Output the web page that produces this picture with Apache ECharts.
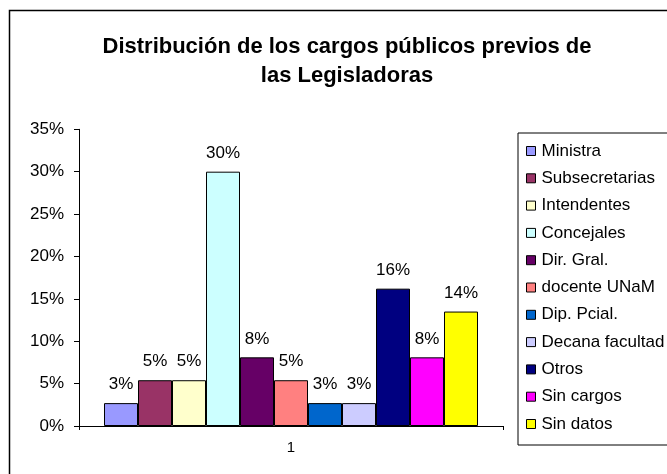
<!DOCTYPE html>
<html>
<head>
<meta charset="utf-8">
<script src="https://cdn.jsdelivr.net/npm/echarts@6/dist/echarts.min.js"></script>
<style>
  html, body { margin: 0; padding: 0; background: #ffffff; }
  #chart { width: 667px; height: 474px; }
</style>
</head>
<body>
<div id="chart"></div>
<script>
// Share of previous public posts held by the legislators (percent)
const categories = ['1'];
const seriesNames = [
  'Ministra', 'Subsecretarias', 'Intendentes', 'Concejales', 'Dir. Gral.',
  'docente UNaM', 'Dip. Pcial.', 'Decana facultad', 'Otros', 'Sin cargos', 'Sin datos'
];
const seriesValues = [2.7, 5.4, 5.4, 30, 8.1, 5.4, 2.7, 2.7, 16.2, 8.1, 13.5];
const seriesColors = [
  '#9999FF', '#993366', '#FFFFCC', '#CCFFFF', '#660066',
  '#FF8080', '#0066CC', '#CCCCFF', '#000080', '#FF00FF', '#FFFF00'
];
const yTicks = [0, 5, 10, 15, 20, 25, 30, 35];

const FONT = 'Liberation Sans, Arial, sans-serif';

const chart = echarts.init(document.getElementById('chart'), null, { renderer: 'canvas' });

const series = seriesNames.map((name, i) => ({
  name: name,
  type: 'bar',
  data: [seriesValues[i]],
  barWidth: 34,
  barGap: '0%',
  itemStyle: { color: seriesColors[i], borderColor: '#000000', borderWidth: 1 },
  label: {
    show: true,
    position: 'top',
    distance: 10,
    color: '#000000',
    fontFamily: FONT,
    fontSize: 17,
    formatter: p => Math.round(p.value) + '%'
  },
  emphasis: { disabled: true }
}));

chart.setOption({
  animation: false,
  backgroundColor: '#ffffff',
  graphic: [{
    type: 'rect',
    shape: { x: 9.5, y: 10.5, width: 720, height: 520 },
    style: { fill: 'none', stroke: '#000000', lineWidth: 1.5 },
    silent: true
  }],
  title: {
    text: 'Distribución de los cargos públicos previos de\nlas Legisladoras',
    left: 342,
    top: 27,
    textAlign: 'center',
    textStyle: {
      fontFamily: FONT,
      fontSize: 22,
      fontWeight: 'bold',
      color: '#000000',
      lineHeight: 29
    }
  },
  legend: {
    orient: 'vertical',
    left: 518,
    top: 133,
    padding: [9, 30, 12, 8],
    itemWidth: 9,
    itemHeight: 9,
    itemGap: 9.3,
    icon: 'rect',
    selectedMode: false,
    borderColor: '#000000',
    borderWidth: 1,
    data: seriesNames,
    itemStyle: { borderColor: '#000000', borderWidth: 1 },
    textStyle: { fontFamily: FONT, fontSize: 17, color: '#000000', lineHeight: 18, padding: [0, 0, 0, 1] }
  },
  grid: { left: 79, right: 164, top: 129.3, bottom: 48, containLabel: false },
  xAxis: {
    type: 'category',
    data: categories,
    boundaryGap: true,
    axisLine: { lineStyle: { color: '#000000', width: 1 } },
    axisTick: { show: true, length: 4, lineStyle: { color: '#000000' } },
    axisLabel: { color: '#000000', fontFamily: FONT, fontSize: 15, margin: 14 },
    splitLine: { show: false }
  },
  yAxis: {
    type: 'value',
    min: yTicks[0],
    max: yTicks[yTicks.length - 1],
    interval: yTicks[1] - yTicks[0],
    axisLine: { show: true, lineStyle: { color: '#000000', width: 1 } },
    axisTick: { show: true, length: 5, lineStyle: { color: '#000000' } },
    axisLabel: { color: '#000000', fontFamily: FONT, fontSize: 17, margin: 15, formatter: '{value}%' },
    splitLine: { show: false }
  },
  series: series
});
</script>
</body>
</html>
